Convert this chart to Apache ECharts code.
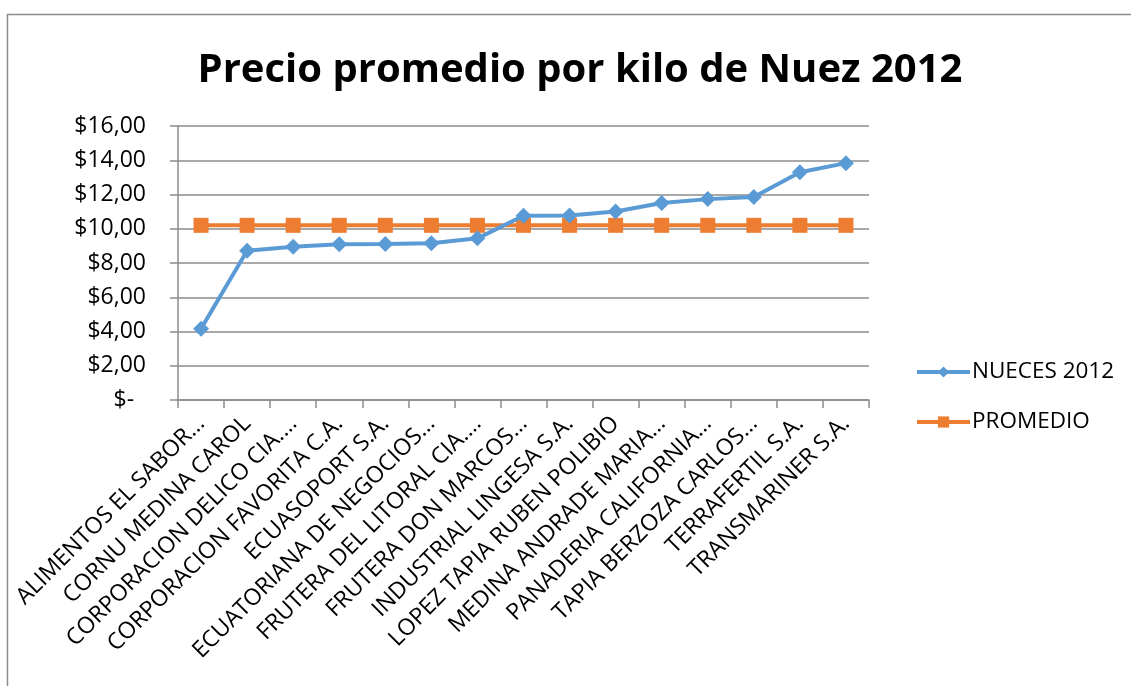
<!DOCTYPE html>
<html>
<head>
<meta charset="utf-8">
<script src="https://cdn.jsdelivr.net/npm/echarts@6/dist/echarts.min.js"></script>
<style>
  html, body { margin: 0; padding: 0; background: #fff; }
  #chart { width: 1131px; height: 686px; }
</style>
</head>
<body>
<div id="chart"></div>
<script>
// datos
const empresas = [
  'ALIMENTOS EL SABOR…', 'CORNU MEDINA CAROL', 'CORPORACION DELICO CIA.…',
  'CORPORACION FAVORITA C.A.', 'ECUASOPORT S.A.', 'ECUATORIANA DE NEGOCIOS…',
  'FRUTERA DEL LITORAL CIA.…', 'FRUTERA DON MARCOS…', 'INDUSTRIAL LINGESA S.A.',
  'LOPEZ TAPIA RUBEN POLIBIO', 'MEDINA ANDRADE MARIA…', 'PANADERIA CALIFORNIA…',
  'TAPIA BERZOZA CARLOS…', 'TERRAFERTIL S.A.', 'TRANSMARINER S.A.'
];
const nueces2012 = [4.16, 8.72, 8.95, 9.09, 9.11, 9.15, 9.44, 10.76, 10.78, 11.01, 11.50, 11.73, 11.85, 13.30, 13.83];
const promedio = [10.2, 10.2, 10.2, 10.2, 10.2, 10.2, 10.2, 10.2, 10.2, 10.2, 10.2, 10.2, 10.2, 10.2, 10.2];

const FONT = '"Open Sans", sans-serif';
const myChart = echarts.init(document.getElementById('chart'));

const options = {
  backgroundColor: '#fff',
  animation: false,
  textStyle: { fontFamily: FONT },
  title: {
    text: 'Precio promedio por kilo de Nuez 2012',
    left: 575,
    top: 46,
    textAlign: 'center',
    textStyle: { fontFamily: FONT, fontSize: 40, fontWeight: 'bold', color: '#000' }
  },
  legend: {
    orient: 'vertical',
    left: 910,
    top: 355,
    itemGap: 26,
    itemWidth: 53,
    itemHeight: 14,
    lineStyle: { width: 4 },
    textStyle: { fontFamily: FONT, fontSize: 22.5, lineHeight: 24, color: '#000', padding: [0, 0, 0, -3] },
    data: ['NUECES 2012', 'PROMEDIO']
  },
  grid: { left: 178, right: 262, top: 126, bottom: 286, containLabel: false },
  xAxis: {
    type: 'category',
    data: empresas,
    boundaryGap: true,
    axisLine: { lineStyle: { color: '#8c8c8c', width: 1.5 } },
    axisTick: { show: true, length: 8, lineStyle: { color: '#8c8c8c', width: 1.5 } },
    axisLabel: {
      interval: 0,
      rotate: 45,
      margin: 20,
      fontFamily: FONT,
      fontSize: 23,
      color: '#000'
    }
  },
  yAxis: {
    type: 'value',
    min: 0,
    max: 16,
    interval: 2,
    axisLine: { show: true, lineStyle: { color: '#8c8c8c', width: 1.5 } },
    axisTick: { show: true, length: 8, lineStyle: { color: '#8c8c8c', width: 1.5 } },
    splitLine: { lineStyle: { color: '#8c8c8c', width: 1.5 } },
    axisLabel: {
      margin: 32,
      fontFamily: FONT,
      fontSize: 23,
      color: '#000',
      formatter: v => (v === 0 ? '$-  ' : '$' + v.toFixed(2).replace('.', ','))
    }
  },
  series: [
    {
      name: 'NUECES 2012',
      type: 'line',
      data: nueces2012,
      symbol: 'diamond',
      symbolSize: 16,
      color: '#5B9BD5',
      lineStyle: { width: 4, color: '#5B9BD5' },
      itemStyle: { color: '#5B9BD5' },
      z: 3
    },
    {
      name: 'PROMEDIO',
      type: 'line',
      data: promedio,
      symbol: 'rect',
      symbolSize: 15,
      color: '#ED7D31',
      lineStyle: { width: 4, color: '#ED7D31' },
      itemStyle: { color: '#ED7D31' },
      z: 2
    }
  ],
  graphic: [
    {
      type: 'rect',
      shape: { x: 7.5, y: 14.5, width: 1200, height: 800 },
      style: { fill: 'none', stroke: '#8c8c8c', lineWidth: 1.5 },
      silent: true
    }
  ]
};

myChart.setOption(options);
</script>
</body>
</html>
